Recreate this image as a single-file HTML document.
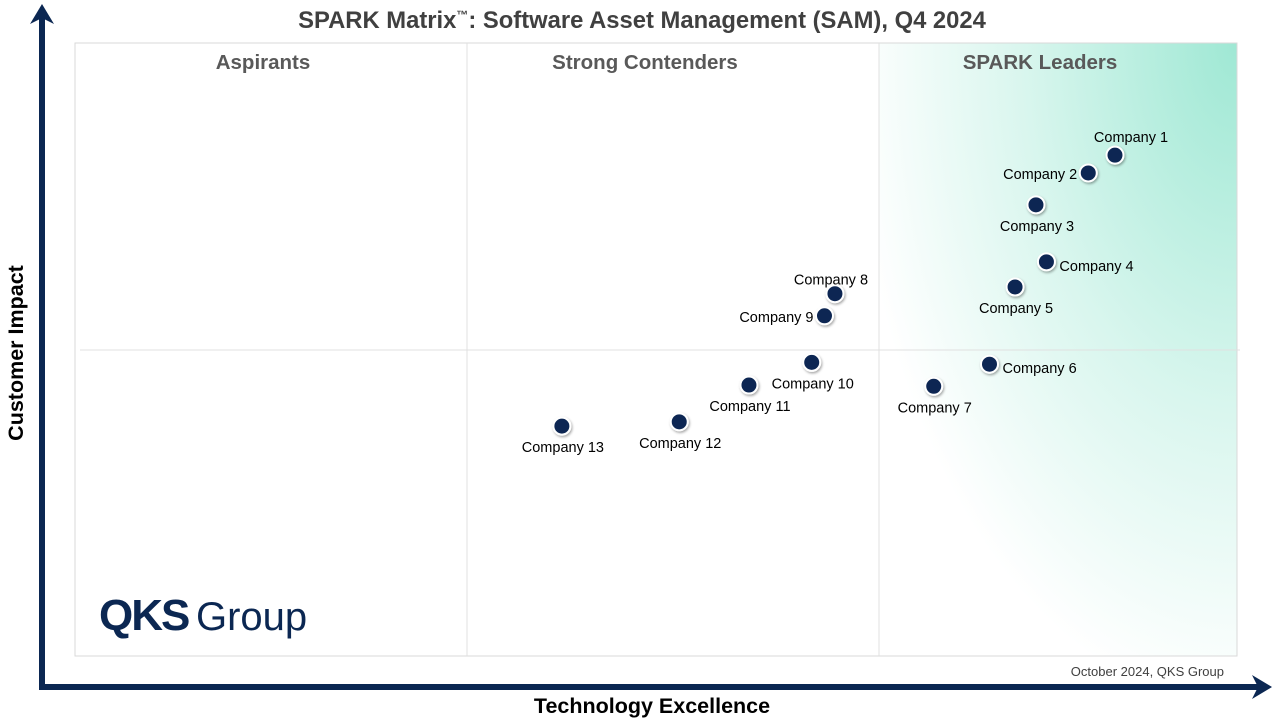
<!DOCTYPE html>
<html><head><meta charset="utf-8"><style>
body{margin:0;background:#fff;width:1280px;height:720px;overflow:hidden;font-family:"Liberation Sans",Arial,sans-serif}
</style></head><body>
<svg width="1280" height="720">
<defs>
<radialGradient id="lg" cx="1" cy="0" r="1.2" fx="1" fy="0" gradientUnits="objectBoundingBox">
<stop offset="0" stop-color="#9fe8d4"/><stop offset="0.5" stop-color="#d9f6ee"/><stop offset="0.9" stop-color="#ffffff"/>
</radialGradient>
<filter id="sh" x="-50%" y="-50%" width="200%" height="200%"><feDropShadow dx="1" dy="1.5" stdDeviation="1.2" flood-color="#000" flood-opacity="0.35"/></filter>
</defs>
<text x="642" y="28" text-anchor="middle" font-size="23.8" font-weight="bold" fill="#404040">SPARK Matrix<tspan font-size="12" dy="-9">™</tspan><tspan dy="9">: Software Asset Management (SAM), Q4 2024</tspan></text>
<rect x="879" y="43" width="358" height="613" fill="url(#lg)"/>
<rect x="75" y="43" width="1162" height="613" fill="none" stroke="#d9d9d9" stroke-width="1"/>
<line x1="467" y1="43" x2="467" y2="656" stroke="#e0e0e0"/>
<line x1="879" y1="43" x2="879" y2="656" stroke="#e0e0e0"/>
<line x1="80" y1="350" x2="1240" y2="350" stroke="#e0e0e0"/>
<g font-size="20.5" font-weight="bold" fill="#595959" text-anchor="middle">
<text x="263" y="69">Aspirants</text>
<text x="645" y="69">Strong Contenders</text>
<text x="1040" y="69">SPARK Leaders</text>
</g>
<g fill="#0b2752">
<rect x="39" y="16" width="6" height="674"/>
<polygon points="42,4 30,24 42,18 54,24"/>
<rect x="39" y="684" width="1222" height="6"/>
<polygon points="1272,687 1252,675 1258,687 1252,699"/>
</g>
<text x="23" y="353" transform="rotate(-90 23 353)" text-anchor="middle" font-size="21.5" font-weight="bold" fill="#000">Customer Impact</text>
<text x="652" y="713" text-anchor="middle" font-size="21.5" font-weight="bold" fill="#000">Technology Excellence</text>
<text x="1224" y="676" text-anchor="end" font-size="13" fill="#404040">October 2024, QKS Group</text>
<g>
<text x="99" y="630" font-size="44" font-weight="bold" fill="#0b2752" letter-spacing="-2">QKS</text>
<text x="196" y="630" font-size="40" fill="#0b2752">Group</text>
</g>
<g id="pts"></g>
</svg>
<script>
const companies=["Company 1","Company 2","Company 3","Company 4","Company 5","Company 6","Company 7","Company 8","Company 9","Company 10","Company 11","Company 12","Company 13"];
const techExcellence=[89.5,87.2,82.7,83.6,80.9,78.7,73.9,65.4,64.5,63.4,58.0,52.0,41.9];
const customerImpact=[81.7,78.8,73.6,64.3,60.2,47.6,44.0,59.1,55.5,47.9,44.2,38.2,37.5];
const labelPos=["tr","l","b","r","b","r","b","t","l","b","b","b","b"];
function xScale(v){return 75+v*11.62;}
function yScale(v){return 656-v*6.13;}
const g=document.getElementById('pts');
const NS="http://www.w3.org/2000/svg";
companies.forEach((c,i)=>{
  const x=xScale(techExcellence[i]),y=yScale(customerImpact[i]);
  const dot=document.createElementNS(NS,'circle');
  dot.setAttribute('cx',x);dot.setAttribute('cy',y);dot.setAttribute('r',8.5);
  dot.setAttribute('fill','#0b2752');dot.setAttribute('stroke','#fff');dot.setAttribute('stroke-width','2');dot.setAttribute('filter','url(#sh)');
  
  
  g.appendChild(dot);
  const t=document.createElementNS(NS,'text');
  let tx=x,ty=y,anc='middle';const p=labelPos[i];
  if(p==='tr'){tx=x+16;ty=y-13;}
  else if(p==='t'){tx=x-4;ty=y-9;}
  else if(p==='b'){tx=x+1;ty=y+26;}
  else if(p==='l'){tx=x-11;ty=y+6;anc='end';}
  else if(p==='r'){tx=x+13;ty=y+9;anc='start';}
  t.setAttribute('x',tx);t.setAttribute('y',ty);t.setAttribute('text-anchor',anc);
  t.setAttribute('font-size','14.5');t.setAttribute('fill','#000');
  t.textContent=c;
  
  
  g.appendChild(t);
});
</script>
</body></html>
